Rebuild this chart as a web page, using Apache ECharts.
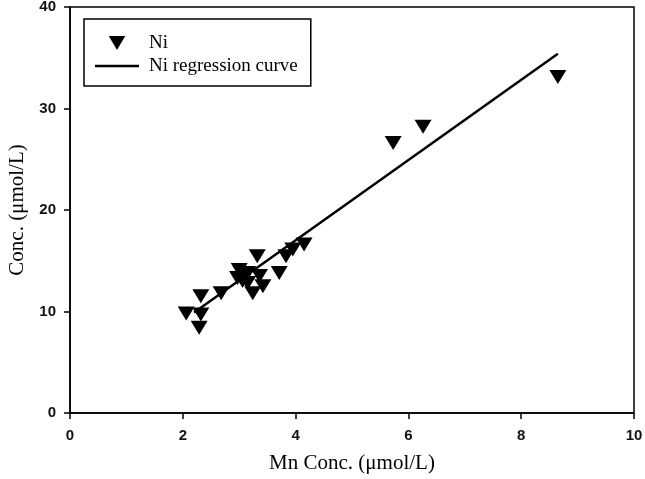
<!DOCTYPE html>
<html>
<head>
<meta charset="utf-8">
<script src="https://cdn.jsdelivr.net/npm/echarts@6/dist/echarts.min.js"></script>
<style>html,body{margin:0;padding:0;background:#fff;}#c{width:645px;height:479px;}</style>
</head>
<body>
<div id="c"></div>
<script>
// Ni scatter data (Mn conc vs Ni conc)
var mnConc = [2.06, 2.32, 2.29, 2.32, 2.68, 2.97, 3.00, 3.06, 3.15, 3.15, 3.24, 3.32, 3.36, 3.42, 3.71, 3.83, 3.95, 4.15, 5.73, 6.26, 8.65];
var niConc = [9.8, 9.7, 8.4, 11.5, 11.8, 13.3, 14.1, 13.0, 13.8, 12.8, 11.8, 15.45, 13.5, 12.5, 13.8, 15.45, 16.1, 16.6, 26.6, 28.2, 33.1];
// Regression line endpoints
var regX = [2.2, 8.65];
var regY = [9.9, 35.4];
var xTicks = [0, 2, 4, 6, 8, 10];
var yTicks = [0, 10, 20, 30, 40];

var chart = echarts.init(document.getElementById('c'));
var downTri = 'path://M0,0 L10,0 L5,8.5 Z';
var lineIcon = 'path://M0,0 L100,0 L100,6 L0,6 Z';
var option = {
  animation: false,
  backgroundColor: '#fff',
  grid: { left: 70, right: 11, top: 7, bottom: 66, show: true, borderColor: '#000', borderWidth: 1.5,
          containLabel: false, outerBoundsMode: 'none' },
  legend: {
    left: 84, top: 19, orient: 'vertical',
    borderColor: '#000', borderWidth: 1.5,
    padding: [14, 13, 10, 11],
    itemWidth: 44, itemHeight: 14, itemGap: 3,
    textStyle: { fontFamily: 'Liberation Serif', fontSize: 19, color: '#000', lineHeight: 20, padding: [0, 0, 0, 5] },
    data: [
      { name: 'Ni', icon: downTri },
      { name: 'Ni regression curve', icon: lineIcon }
    ]
  },
  xAxis: {
    type: 'value', min: 0, max: 10, interval: 2,
    name: 'Mn Conc. (\u03bcmol/L)', nameLocation: 'middle', nameGap: 40,
    nameTextStyle: { fontFamily: 'Liberation Serif', fontSize: 21, color: '#000' },
    axisLine: { lineStyle: { color: '#000', width: 1.5 } },
    axisTick: { inside: false, length: 6, lineStyle: { color: '#000', width: 1.5 } },
    axisLabel: { fontFamily: 'Liberation Sans', fontWeight: 'bold', fontSize: 15, color: '#111', margin: 15 },
    splitLine: { show: false }
  },
  yAxis: {
    type: 'value', min: 0, max: 40, interval: 10,
    name: 'Conc. (\u03bcmol/L)', nameLocation: 'middle', nameGap: 42,
    nameTextStyle: { fontFamily: 'Liberation Serif', fontSize: 21, color: '#000' },
    axisLine: { lineStyle: { color: '#000', width: 1.5 } },
    axisTick: { inside: false, length: 6, lineStyle: { color: '#000', width: 1.5 } },
    axisLabel: { fontFamily: 'Liberation Sans', fontWeight: 'bold', fontSize: 15, color: '#111', margin: 14 },
    splitLine: { show: false }
  },
  series: [
    {
      name: 'Ni', type: 'scatter', symbol: downTri, symbolSize: [17, 14],
      itemStyle: { color: '#000', opacity: 1 },
      data: mnConc.map(function (x, i) { return [x, niConc[i]]; }),
      z: 3
    },
    {
      name: 'Ni regression curve', type: 'line', symbol: 'none',
      lineStyle: { color: '#000', width: 2.5 },
      itemStyle: { color: '#000' },
      data: regX.map(function (x, i) { return [x, regY[i]]; }),
      z: 4
    }
  ]
};
chart.setOption(option);
</script>
</body>
</html>
